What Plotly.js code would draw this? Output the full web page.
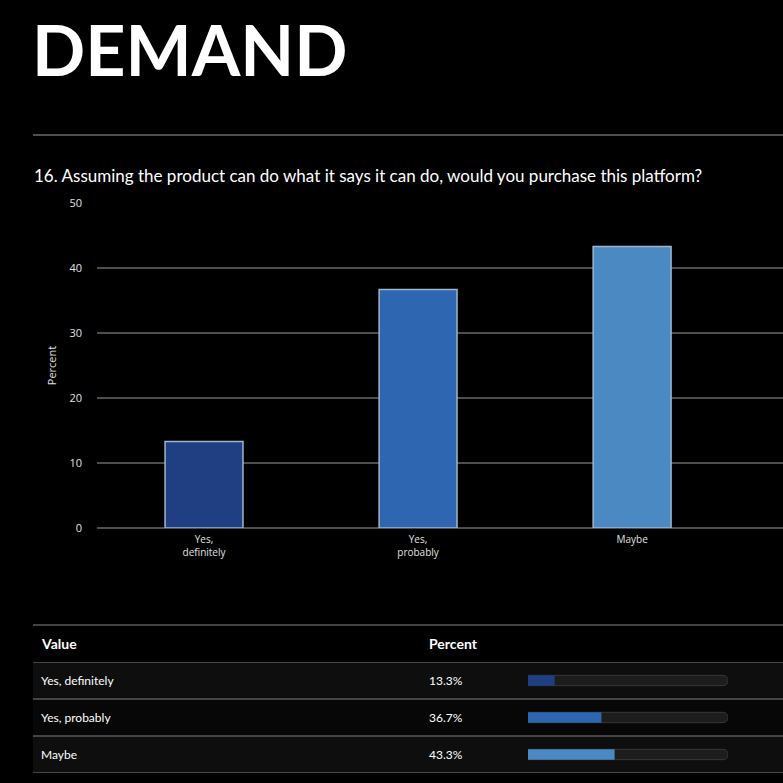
<!DOCTYPE html>
<html>
<head>
<meta charset="utf-8">
<script src="https://cdn.plot.ly/plotly-3.0.1.min.js"></script>
<style>
html,body{margin:0;padding:0;background:#000;}
#chart{width:783px;height:783px;}
</style>
</head>
<body>
<div id="chart"></div>
<script>
// ---- data ----
const categories = ["Yes, definitely", "Yes, probably", "Maybe"];
const tickLabels = ["Yes,<br>definitely", "Yes,<br>probably", "Maybe"];
const percents = [13.3, 36.7, 43.3];
const barColors = ["#1f3f82", "#2e66b1", "#4a89c1"];
const pageTitle = "DEMAND";
const question = "16. Assuming the product can do what it says it can do, would you purchase this platform?";
const yTitle = "Percent";
const tableHeaders = ["Value", "Percent"];

// ---- helpers ----
const W = 783, H = 783;
const px = v => v / W;
const py = v => 1 - v / H;

const mainBar = {
  type: "bar",
  x: tickLabels.map((_, i) => i),
  y: percents,
  width: 0.364,
  marker: { color: barColors, line: { color: "#9fb6cf", width: 1.5 } },
  xaxis: "x", yaxis: "y",
  hoverinfo: "skip"
};

const track = {
  type: "bar", orientation: "h",
  x: categories.map(() => 100),
  y: categories,
  width: 0.28,
  marker: { color: "#1d1d1d", line: { color: "#383838", width: 1 }, cornerradius: 5 },
  xaxis: "x2", yaxis: "y2", hoverinfo: "skip"
};
const fill = {
  type: "bar", orientation: "h",
  x: percents,
  y: categories,
  width: 0.28,
  marker: { color: barColors, cornerradius: 5 },
  xaxis: "x2", yaxis: "y2", hoverinfo: "skip"
};

const shapes = [
  { type: "line", xref: "paper", yref: "paper", x0: px(33), x1: 1, y0: py(135), y1: py(135), line: { color: "#6a6a6a", width: 1.5 } }
];
// table row backgrounds
const rowBg = ["#0e0e0e", "#070707", "#0e0e0e"];
categories.forEach((c, i) => {
  shapes.push({ type: "rect", xref: "paper", yref: "y2", x0: px(33), x1: 1, y0: i - 0.5, y1: i + 0.5, fillcolor: rowBg[i], line: { width: 0 }, layer: "below" });
});
// table lines
shapes.push({ type: "line", xref: "paper", yref: "paper", x0: px(33), x1: 1, y0: py(625), y1: py(625), line: { color: "#5a5a5a", width: 1.5 } });
categories.forEach((c, i) => {
  shapes.push({ type: "line", xref: "paper", yref: "y2", x0: px(33), x1: 1, y0: i - 0.5, y1: i - 0.5, line: { color: "#5a5a5a", width: 1.5 } });
});
shapes.push({ type: "line", xref: "paper", yref: "y2", x0: px(33), x1: 1, y0: categories.length - 0.5, y1: categories.length - 0.5, line: { color: "#5a5a5a", width: 1.5 } });

const annotations = [
  { text: pageTitle, xref: "paper", yref: "paper", x: px(30), y: py(5), xanchor: "left", yanchor: "top", showarrow: false,
    font: { family: "Lato, sans-serif", size: 70, color: "#ffffff", weight: 700 } },
  { text: question, xref: "paper", yref: "paper", x: px(32), y: py(176), xanchor: "left", yanchor: "middle", showarrow: false,
    font: { family: "Lato, sans-serif", size: 17, color: "#ffffff" } },
  { text: "<b>" + tableHeaders[0] + "</b>", xref: "paper", yref: "paper", x: px(39), y: py(643), xanchor: "left", yanchor: "middle", showarrow: false,
    font: { family: "Lato, sans-serif", size: 14, color: "#ffffff" } },
  { text: "<b>" + tableHeaders[1] + "</b>", xref: "paper", yref: "paper", x: px(427), y: py(643), xanchor: "left", yanchor: "middle", showarrow: false,
    font: { family: "Lato, sans-serif", size: 14, color: "#ffffff" } }
];
categories.forEach((c, i) => {
  annotations.push({ text: c, xref: "paper", yref: "y2", x: px(39), y: c, xanchor: "left", yanchor: "middle", showarrow: false,
    font: { family: "Lato, sans-serif", size: 12, color: "#ffffff" } });
  annotations.push({ text: percents[i].toFixed(1) + "%", xref: "paper", yref: "y2", x: px(427), y: c, xanchor: "left", yanchor: "middle", showarrow: false,
    font: { family: "Lato, sans-serif", size: 12, color: "#ffffff" } });
});

const layout = {
  width: W, height: H,
  margin: { l: 0, r: 0, t: 0, b: 0 },
  paper_bgcolor: "#000000",
  plot_bgcolor: "rgba(0,0,0,0)",
  showlegend: false,
  barmode: "overlay",
  font: { family: "Open Sans, sans-serif", color: "#e0e0e0" },
  xaxis: {
    domain: [px(97), 1], range: [-0.5, 2.705],
    tickmode: "array", tickvals: tickLabels.map((_, i) => i), ticktext: tickLabels,
    showgrid: false, zeroline: false, showline: false, ticks: "",
    tickfont: { size: 10, color: "#e0e0e0" }, ticklabelstandoff: 4,
    fixedrange: true
  },
  yaxis: {
    domain: [py(528), py(203)], range: [0, 50],
    tickvals: [0, 10, 20, 30, 40, 50],
    showgrid: true, gridcolor: "#4d4d4d", gridwidth: 1.5,
    zeroline: true, zerolinecolor: "#4d4d4d", zerolinewidth: 1.5,
    showline: false, ticks: "",
    tickfont: { size: 11, color: "#e0e0e0" }, ticklabelstandoff: 14,
    title: { text: yTitle, font: { size: 11, color: "#e0e0e0" }, standoff: 10 },
    fixedrange: true
  },
  xaxis2: { domain: [px(528), px(728)], range: [0, 100], visible: false, anchor: "y2", fixedrange: true },
  yaxis2: { domain: [py(773), py(662)], type: "category", categoryarray: categories, range: [2.5, -0.5], visible: false, anchor: "x2", fixedrange: true },
  shapes: shapes,
  annotations: annotations
};

Plotly.newPlot("chart", [mainBar, track, fill], layout, { displayModeBar: false, staticPlot: true });
</script>
</body>
</html>
